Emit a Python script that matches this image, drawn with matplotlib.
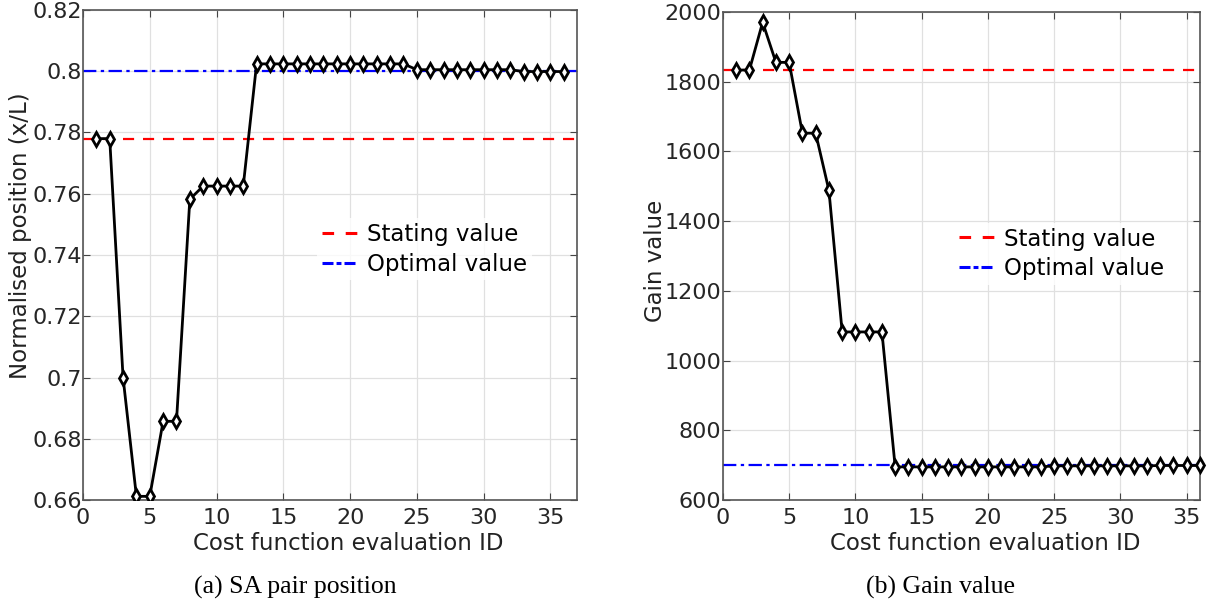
import numpy as np
import matplotlib
matplotlib.use("Agg")
import matplotlib.pyplot as plt
from matplotlib.lines import Line2D

# Données
eval_id = np.arange(1, 37)
position = [0.778, 0.778, 0.700, 0.6612, 0.6612, 0.6857, 0.6857, 0.7582,
            0.7625, 0.7625, 0.7625, 0.7625,
            0.8024, 0.8024, 0.8024, 0.8024, 0.8024, 0.8024, 0.8024, 0.8024,
            0.8024, 0.8024, 0.8024, 0.8024,
            0.8005, 0.8005, 0.8005, 0.8005, 0.8005, 0.8005, 0.8005, 0.8005,
            0.7999, 0.7999, 0.7999, 0.7999]
gain = [1833, 1833, 1970, 1855, 1855, 1652, 1652, 1488,
        1082, 1082, 1082, 1082,
        695, 695, 695, 695, 695, 695, 695, 695, 695, 695, 695, 695,
        698, 698, 698, 698, 698, 698, 698, 698, 699, 699, 699, 699]
pos_start, pos_opt = 0.778, 0.8
gain_start, gain_opt = 1833, 700

pos_ticks = [0.66, 0.68, 0.7, 0.72, 0.74, 0.76, 0.78, 0.8, 0.82]
pos_labels = ["0.66", "0.68", "0.7", "0.72", "0.74", "0.76", "0.78", "0.8", "0.82"]
gain_ticks = [600, 800, 1000, 1200, 1400, 1600, 1800, 2000]
x_ticks = [0, 5, 10, 15, 20, 25, 30, 35]
legend_labels = ["Stating value", "Optimal value"]

plt.rcParams["font.family"] = "DejaVu Sans"

fig = plt.figure(figsize=(12.17, 6.08), dpi=100)
ax1 = fig.add_axes([0.0682, 0.1776, 0.406, 0.806])
ax2 = fig.add_axes([0.594, 0.1776, 0.392, 0.803])

RED_DASH = (0, (5, 4))
BLUE_DASHDOT = (0, (6, 2, 1.5, 2))


def style(ax):
    ax.grid(True, color="#e0e0e0", linewidth=0.9)
    ax.set_axisbelow(True)
    ax.tick_params(direction="in", top=True, right=True, length=5,
                   colors="#444444", labelsize=16, labelcolor="#262626", pad=1)
    ax.tick_params(axis="x", pad=6)
    for s in ax.spines.values():
        s.set_color("#555555")
        s.set_linewidth(1.2)
    ax.set_xticks(x_ticks)


def add_legend(ax, anchor):
    # poignées redessinées : tirets plus épais que dans le tracé
    handles = [Line2D([], [], color="red", linewidth=2.2, linestyle=(0, (3.8, 3.8))),
               Line2D([], [], color="blue", linewidth=2.2, linestyle=(0, (3.6, 1.0, 1.6, 1.0)))]
    leg = ax.legend(handles, legend_labels, loc="center left", bbox_to_anchor=anchor,
                    fontsize=16.5, frameon=True, edgecolor="none", fancybox=False,
                    handlelength=1.57, handletextpad=0.4, borderpad=0.2,
                    labelspacing=0.3, borderaxespad=0)
    return leg


# (a) position
ax1.axhline(pos_start, color="red", linestyle=RED_DASH, linewidth=1.6)
ax1.axhline(pos_opt, color="blue", linestyle=BLUE_DASHDOT, linewidth=1.6)
ax1.plot(eval_id, position, color="black", linewidth=2, marker="d", markersize=7,
         markerfacecolor="white", markeredgecolor="black", markeredgewidth=2, zorder=3)
ax1.set_xlim(0, 37)
ax1.set_ylim(0.66, 0.82)
ax1.set_yticks(pos_ticks)
ax1.set_yticklabels(pos_labels)
ax1.set_xlabel("Cost function evaluation ID", fontsize=16.5, color="#222222")
ax1.set_ylabel("Normalised position (x/L)", fontsize=16.5, color="#222222")
ax1.xaxis.set_label_coords(0.536, -0.065)
ax1.yaxis.set_label_coords(-0.103, 0.54)
style(ax1)
add_legend(ax1, (0.474, 0.512))

# (b) gain
ax2.axhline(gain_start, color="red", linestyle=RED_DASH, linewidth=1.6)
ax2.axhline(gain_opt, color="blue", linestyle=BLUE_DASHDOT, linewidth=1.6)
ax2.plot(eval_id, gain, color="black", linewidth=2, marker="d", markersize=7,
         markerfacecolor="white", markeredgecolor="black", markeredgewidth=2, zorder=3,
         clip_on=False)
ax2.set_xlim(0, 36)
ax2.set_ylim(600, 2000)
ax2.set_yticks(gain_ticks)
ax2.set_xlabel("Cost function evaluation ID", fontsize=16.5, color="#222222")
ax2.set_ylabel("Gain value", fontsize=16.5, color="#222222")
ax2.xaxis.set_label_coords(0.549, -0.065)
ax2.yaxis.set_label_coords(-0.117, 0.49)
style(ax2)
add_legend(ax2, (0.486, 0.504))

fig.text(0.2425, 0.033, "(a) SA pair position", family="Liberation Serif", fontsize=18.5,
         ha="center", va="center")
fig.text(0.773, 0.033, "(b) Gain value", family="Liberation Serif", fontsize=18.5,
         ha="center", va="center")

fig.savefig("out.png", dpi=100)
